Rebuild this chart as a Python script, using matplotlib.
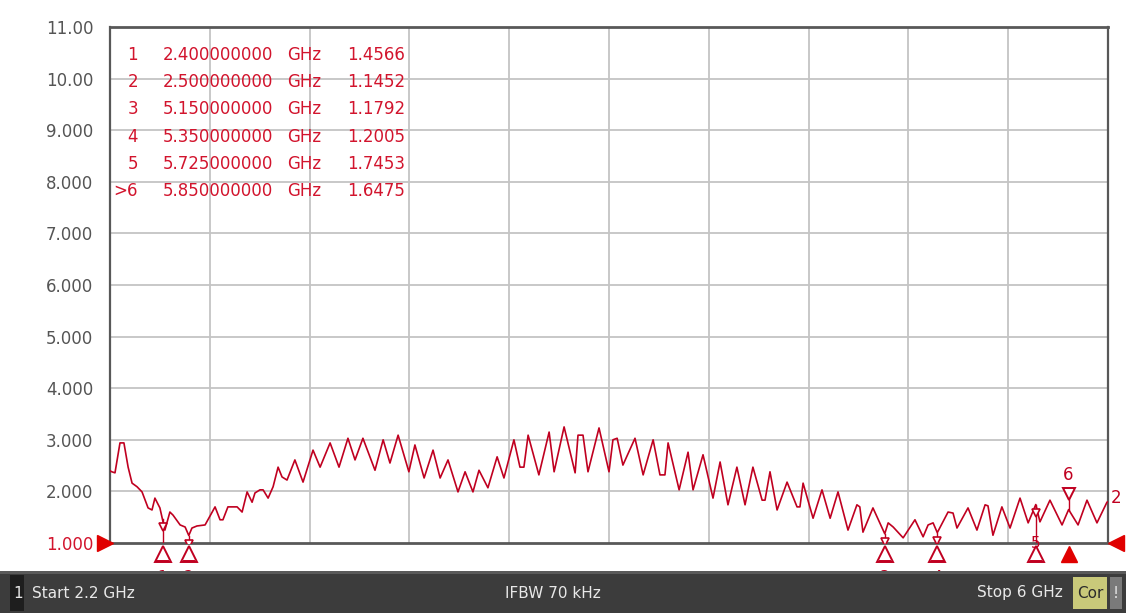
import matplotlib
matplotlib.use('Agg')
import matplotlib.pyplot as plt
import matplotlib.patches as mpatches

# 读数：SWR 轨迹（从截图上逐点读出的折线顶点）
FREQ_GHZ = [2.200, 2.207, 2.219, 2.238, 2.253, 2.269, 2.284, 2.303, 2.322, 2.345,
            2.360, 2.371, 2.390, 2.400, 2.409, 2.428, 2.440, 2.467, 2.486, 2.500,
            2.512, 2.531, 2.562, 2.600, 2.619, 2.630, 2.649, 2.684, 2.703, 2.722,
            2.741, 2.752, 2.771, 2.783, 2.802, 2.821, 2.840, 2.855, 2.874, 2.904,
            2.935, 2.973, 3.000, 3.038, 3.072, 3.106, 3.133, 3.163, 3.209, 3.240,
            3.266, 3.297, 3.338, 3.361, 3.396, 3.430, 3.457, 3.487, 3.525, 3.552,
            3.582, 3.605, 3.639, 3.674, 3.700, 3.738, 3.761, 3.776, 3.792, 3.833,
            3.872, 3.891, 3.929, 3.971, 3.982, 4.001, 4.020, 4.062, 4.100, 4.115,
            4.131, 4.153, 4.199, 4.230, 4.268, 4.294, 4.313, 4.325, 4.367, 4.401,
            4.420, 4.458, 4.496, 4.523, 4.553, 4.587, 4.618, 4.648, 4.683, 4.694,
            4.713, 4.740, 4.778, 4.816, 4.827, 4.839, 4.877, 4.911, 4.942, 4.972,
            5.010, 5.044, 5.055, 5.067, 5.105, 5.150, 5.163, 5.182, 5.220, 5.265,
            5.296, 5.315, 5.334, 5.350, 5.391, 5.410, 5.425, 5.467, 5.501, 5.532,
            5.543, 5.562, 5.596, 5.627, 5.665, 5.696, 5.725, 5.741, 5.779, 5.825,
            5.850, 5.886, 5.920, 5.958, 5.996, 6.000]
SWR = [2.40, 2.38, 2.36, 2.94, 2.94, 2.47, 2.16, 2.09, 1.99, 1.68,
       1.64, 1.87, 1.68, 1.4566, 1.25, 1.60, 1.54, 1.35, 1.31, 1.1452,
       1.29, 1.33, 1.35, 1.70, 1.45, 1.45, 1.70, 1.70, 1.60, 1.99,
       1.79, 1.97, 2.03, 2.03, 1.87, 2.09, 2.47, 2.28, 2.22, 2.61,
       2.18, 2.80, 2.47, 2.94, 2.47, 3.03, 2.61, 3.03, 2.41, 3.00,
       2.55, 3.09, 2.38, 2.90, 2.26, 2.80, 2.26, 2.61, 1.99, 2.38,
       1.99, 2.41, 2.07, 2.67, 2.26, 3.00, 2.47, 2.47, 3.09, 2.32,
       3.15, 2.38, 3.25, 2.36, 3.09, 3.09, 2.38, 3.23, 2.38, 3.00,
       3.03, 2.51, 3.03, 2.32, 3.00, 2.32, 2.32, 2.94, 2.03, 2.76,
       2.03, 2.71, 1.87, 2.57, 1.74, 2.47, 1.74, 2.47, 1.83, 1.83,
       2.38, 1.64, 2.18, 1.70, 1.70, 2.16, 1.48, 2.03, 1.48, 1.99,
       1.25, 1.74, 1.70, 1.21, 1.68, 1.1792, 1.39, 1.31, 1.10, 1.45,
       1.12, 1.35, 1.39, 1.2005, 1.60, 1.58, 1.29, 1.68, 1.25, 1.74,
       1.72, 1.15, 1.70, 1.29, 1.87, 1.39, 1.7453, 1.41, 1.83, 1.35,
       1.6475, 1.35, 1.83, 1.39, 1.79, 1.80]

MARKER_NO = ['1', '2', '3', '4', '5', '>6']
MARKER_FREQ = [2.400, 2.500, 5.150, 5.350, 5.725, 5.850]
MARKER_SWR = [1.4566, 1.1452, 1.1792, 1.2005, 1.7453, 1.6475]

Y_TICKS = [1, 2, 3, 4, 5, 6, 7, 8, 9, 10, 11]
Y_TICK_LABELS = ['1.000', '2.000', '3.000', '4.000', '5.000', '6.000',
                 '7.000', '8.000', '9.000', '10.00', '11.00']
F_START, F_STOP = 2.2, 6.0
N_XDIV = 10

RED = '#c00020'
TXT_RED = '#d2142d'
GRID = '#c4c4c4'
FRAME = '#585858'
BAR = '#3c3c3c'
FONT = 'DejaVu Sans'

W, H, DPI = 1126, 613, 100
# 绘图区像素位置
PX_L, PX_R, PX_T, PX_B = 110, 1108, 27, 543


def _fx(px):
    return px / W


def _fy(py):
    return 1 - py / H


fig = plt.figure(figsize=(W / DPI, H / DPI), dpi=DPI)
fig.patch.set_facecolor('white')
ax = fig.add_axes([_fx(PX_L), _fy(PX_B), (PX_R - PX_L) / W, (PX_B - PX_T) / H])
ax.set_xlim(F_START, F_STOP)
ax.set_ylim(1, 11)
ax.set_facecolor('white')

# 网格
step = (F_STOP - F_START) / N_XDIV
for k in range(1, N_XDIV):
    ax.axvline(F_START + k * step, color=GRID, lw=1.3, zorder=1)
for v in Y_TICKS[1:-1]:
    ax.axhline(v, color=GRID, lw=1.3, zorder=1)

for s in ax.spines.values():
    s.set_color(FRAME)
    s.set_linewidth(1.6)
ax.spines['bottom'].set_linewidth(2.0)
ax.spines['top'].set_linewidth(2.0)
ax.set_xticks([])
ax.set_yticks(Y_TICKS)
ax.set_yticklabels(Y_TICK_LABELS, fontsize=12, fontfamily=FONT)
ax.tick_params(axis='y', length=0, pad=12, colors='#555555')
ax.get_yticklabels()[0].set_color(TXT_RED)

# 轨迹
ax.plot(FREQ_GHZ, SWR, color=RED, lw=1.2, zorder=3)

# 参考电平三角
ax.plot([F_START - 0.02], [1], marker='>', ms=11, color='#e00000', clip_on=False, zorder=5)
ax.plot([F_STOP + 0.03], [1], marker='<', ms=12, color='#e00000', clip_on=False, zorder=5)
ax.text(F_STOP + 0.012, 1.88, '2', color=RED, fontsize=12, fontfamily=FONT,
        ha='left', va='center', clip_on=False)

# 标记
u = 1 / 51.6  # 每像素的纵轴单位
for i, (f, v) in enumerate(zip(MARKER_FREQ, MARKER_SWR)):
    if i < 5:
        ax.plot([f, f], [1, v], color=RED, lw=1.0, zorder=4)
        ax.plot([f], [v - 8 * u], marker='v', ms=6, mfc='white', mec=RED, mew=1.2, zorder=5)
        ax.plot([f], [1 - 11 * u], marker='^', ms=12, mfc='white', mec=RED, mew=1.4,
                clip_on=False, zorder=5)
        ax.plot([f - 0.02, f + 0.02], [1 - 18 * u, 1 - 18 * u], color=RED, lw=1.4,
                clip_on=False, zorder=5)
        if i == 4:
            ax.text(f, 1 - 1 * u, '5', color=RED, fontsize=11, fontfamily=FONT,
                    ha='center', va='center', clip_on=False, zorder=6)
        else:
            ax.text(f, 1 - 34 * u, str(i + 1), color=RED, fontsize=11, fontfamily=FONT,
                    ha='center', va='center', clip_on=False, zorder=2)
    else:
        ax.plot([f, f], [v, v + 10 * u], color=RED, lw=1.0, zorder=4)
        ax.plot([f], [v + 16 * u], marker='v', ms=9, mfc='white', mec=RED, mew=1.4, zorder=5)
        ax.text(f, v + 35 * u, '6', color=RED, fontsize=12, fontfamily=FONT,
                ha='center', va='center', zorder=6)
        ax.plot([f], [1 - 11 * u], marker='^', ms=11, color='#e00000', clip_on=False, zorder=5)

# 标记读数表
row0 = 1 + (PX_B - 55) * u
for i, (no, f, v) in enumerate(zip(MARKER_NO, MARKER_FREQ, MARKER_SWR)):
    y = row0 - i * 27.2 * u
    kw = dict(color=TXT_RED, fontsize=12, fontfamily=FONT, va='center', zorder=6,
              transform=ax.get_yaxis_transform())
    ax.text((138 - PX_L) / (PX_R - PX_L), y, no, ha='right', **kw)
    ax.text((163 - PX_L) / (PX_R - PX_L), y, f'{f:.9f}', ha='left', **kw)
    ax.text((287 - PX_L) / (PX_R - PX_L), y, 'GHz', ha='left', **kw)
    ax.text((405 - PX_L) / (PX_R - PX_L), y, f'{v:.4f}', ha='right', **kw)

# 底部状态栏
bar = fig.add_axes([0, 0, 1, 42 / H])
bar.set_xlim(0, W)
bar.set_ylim(0, 42)
bar.set_axis_off()
bar.add_patch(mpatches.Rectangle((0, 0), W, 42, facecolor=BAR, edgecolor='none'))
bar.add_patch(mpatches.Rectangle((0, 39), W, 3, facecolor='#5a5a5a', edgecolor='none'))
bar.add_patch(mpatches.Rectangle((10, 2), 14, 36, facecolor='#1e1e1e', edgecolor='none'))
bar.add_patch(mpatches.Rectangle((1073, 4), 34, 32, facecolor='#c9c97a', edgecolor='none'))
bar.add_patch(mpatches.Rectangle((1110, 4), 12, 32, facecolor='#7a7a7a', edgecolor='none'))
tkw = dict(fontsize=11, fontfamily=FONT, va='center', color='#e8e8e8')
bar.text(13, 20, '1', ha='left', **tkw)
bar.text(32, 20, 'Start 2.2 GHz', ha='left', **tkw)
bar.text(553, 20, 'IFBW 70 kHz', ha='center', **tkw)
bar.text(1063, 20, 'Stop 6 GHz', ha='right', **tkw)
bar.text(1090, 20, 'Cor', ha='center', fontsize=11, fontfamily=FONT, va='center', color='#2a2a2a')
bar.text(1116, 20, '!', ha='center', **tkw)

fig.savefig('out.png', dpi=DPI, facecolor='white')
plt.close()
